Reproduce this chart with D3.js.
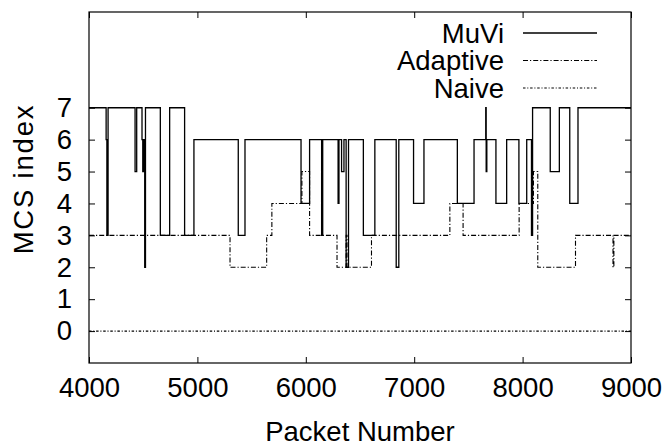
<!DOCTYPE html>
<html>
<head>
<meta charset="utf-8">
<script src="https://cdn.jsdelivr.net/npm/d3@7/dist/d3.min.js"></script>
<style>
  html, body { margin: 0; padding: 0; background: #fff; }
  svg { display: block; }
  text { font-family: "Liberation Sans", Arial, Helvetica, sans-serif; fill: #000; }
</style>
</head>
<body>
<svg id="chart" width="665" height="446"></svg>
<script>
// MCS index per packet, stored as step changes: [packet number, MCS index from here on]
const muvi = [
  [4000, 7], [4158, 6], [4165, 3], [4176, 7], [4425, 5], [4440, 7],
  [4489, 6], [4496, 5], [4503, 6], [4509, 5], [4514, 2], [4521, 7],
  [4658, 3], [4744, 7], [4882, 3], [4968, 6], [5377, 3], [5439, 6],
  [5956, 4], [6035, 6], [6146, 3], [6156, 6], [6298, 4], [6306, 6],
  [6330, 5], [6352, 6], [6372, 2], [6394, 6],
  [6531, 3], [6637, 6], [6834, 2], [6858, 6],
  [6994, 4], [7090, 6], [7398, 4], [7552, 6], [7660, 7], [7664, 5],
  [7670, 6], [7754, 4], [7853, 6], [7966, 4], [8038, 6], [8082, 3],
  [8092, 7], [8255, 5], [8339, 7], [8435, 4], [8511, 7]
];
const adaptive = [
  [4000, 3], [5301, 2], [5639, 3], [5687, 4], [5964, 5], [6035, 3],
  [6288, 2], [6372, 3], [6380, 2], [6606, 3], [7329, 4], [7451, 3],
  [7968, 4], [8100, 5], [8140, 2], [8488, 3], [8834, 2], [8842, 3]
];
const naive = [[4000, 0]];

const lastPacket = 9000;
const xTicks = [4000, 5000, 6000, 7000, 8000, 9000];
const yTicks = [0, 1, 2, 3, 4, 5, 6, 7];
const seriesNames = ["MuVi", "Adaptive", "Naive"];
const xTitle = "Packet Number";
const yTitle = "MCS index";

const svg = d3.select("#chart");
const W = 665, H = 446;
const m = { left: 89, right: 631, top: 12, bottom: 363 };
const fontSize = 27.5;

svg.append("rect").attr("width", W).attr("height", H).attr("fill", "#fff");

const x = d3.scaleLinear().domain([4000, 9000]).range([m.left, m.right]);
const y = d3.scaleLinear().domain([-1, 10]).range([m.bottom, m.top]);

// clip for the data lines
svg.append("defs").append("clipPath").attr("id", "plot-clip")
  .append("rect")
  .attr("x", m.left).attr("y", m.top)
  .attr("width", m.right - m.left).attr("height", m.bottom - m.top);

// axes: ticks point inward, labels on bottom and left only
const tickLen = 6;
function styleAxis(g, withLabels) {
  g.select(".domain").remove();
  g.selectAll(".tick line").attr("stroke", "#000").attr("stroke-width", 1);
  if (withLabels) {
    g.selectAll(".tick text")
      .style("font-size", fontSize + "px")
      .attr("fill", "#000");
  } else {
    g.selectAll(".tick text").remove();
  }
}

svg.append("g")
  .attr("transform", `translate(0,${m.bottom})`)
  .call(d3.axisBottom(x).tickValues(xTicks).tickSize(-tickLen).tickPadding(14).tickFormat(d3.format("d")))
  .call(g => styleAxis(g, true));

svg.append("g")
  .attr("transform", `translate(0,${m.top})`)
  .call(d3.axisTop(x).tickValues(xTicks).tickSize(-tickLen))
  .call(g => styleAxis(g, false));

svg.append("g")
  .attr("transform", `translate(${m.left},0)`)
  .call(d3.axisLeft(y).tickValues(yTicks).tickSize(-tickLen).tickPadding(17).tickFormat(d3.format("d")))
  .call(g => styleAxis(g, true));

svg.append("g")
  .attr("transform", `translate(${m.right},0)`)
  .call(d3.axisRight(y).tickValues(yTicks).tickSize(-tickLen))
  .call(g => styleAxis(g, false));

// step lines
const styles = [
  { data: muvi, dash: null, width: 1.3 },
  { data: adaptive, dash: "5,2,1.2,2", width: 1.1 },
  { data: naive, dash: "2.5,1.8,1,1.8", width: 1.1 }
];

const line = d3.line()
  .x(d => x(d[0]))
  .y(d => y(d[1]))
  .curve(d3.curveStepAfter);

const plot = svg.append("g").attr("clip-path", "url(#plot-clip)");
styles.forEach(s => {
  const pts = s.data.concat([[lastPacket, s.data[s.data.length - 1][1]]]);
  plot.append("path")
    .datum(pts)
    .attr("fill", "none")
    .attr("stroke", "#000")
    .attr("stroke-width", s.width)
    .attr("stroke-dasharray", s.dash)
    .attr("d", line);
});

// frame
svg.append("rect")
  .attr("x", m.left).attr("y", m.top)
  .attr("width", m.right - m.left).attr("height", m.bottom - m.top)
  .attr("fill", "none").attr("stroke", "#000").attr("stroke-width", 1.2);

// legend
const legendTextX = 504, legendLineX0 = 523, legendLineX1 = 597;
const legendRows = [33, 60.5, 88];
seriesNames.forEach((name, i) => {
  const ly = legendRows[i];
  svg.append("text")
    .attr("x", legendTextX).attr("y", ly)
    .attr("dy", "0.36em")
    .attr("text-anchor", "end")
    .style("font-size", fontSize + "px")
    .text(name);
  svg.append("line")
    .attr("x1", legendLineX0).attr("x2", legendLineX1)
    .attr("y1", ly).attr("y2", ly)
    .attr("stroke", "#000")
    .attr("stroke-width", styles[i].width)
    .attr("stroke-dasharray", styles[i].dash);
});

// axis titles
svg.append("text")
  .attr("x", (m.left + m.right) / 2)
  .attr("y", 441)
  .attr("text-anchor", "middle")
  .style("font-size", fontSize + "px")
  .text(xTitle);

svg.append("text")
  .attr("transform", `translate(33,179) rotate(-90)`)
  .attr("text-anchor", "middle")
  .style("font-size", fontSize + "px")
  .style("letter-spacing", "1.8px")
  .text(yTitle);
</script>
</body>
</html>
